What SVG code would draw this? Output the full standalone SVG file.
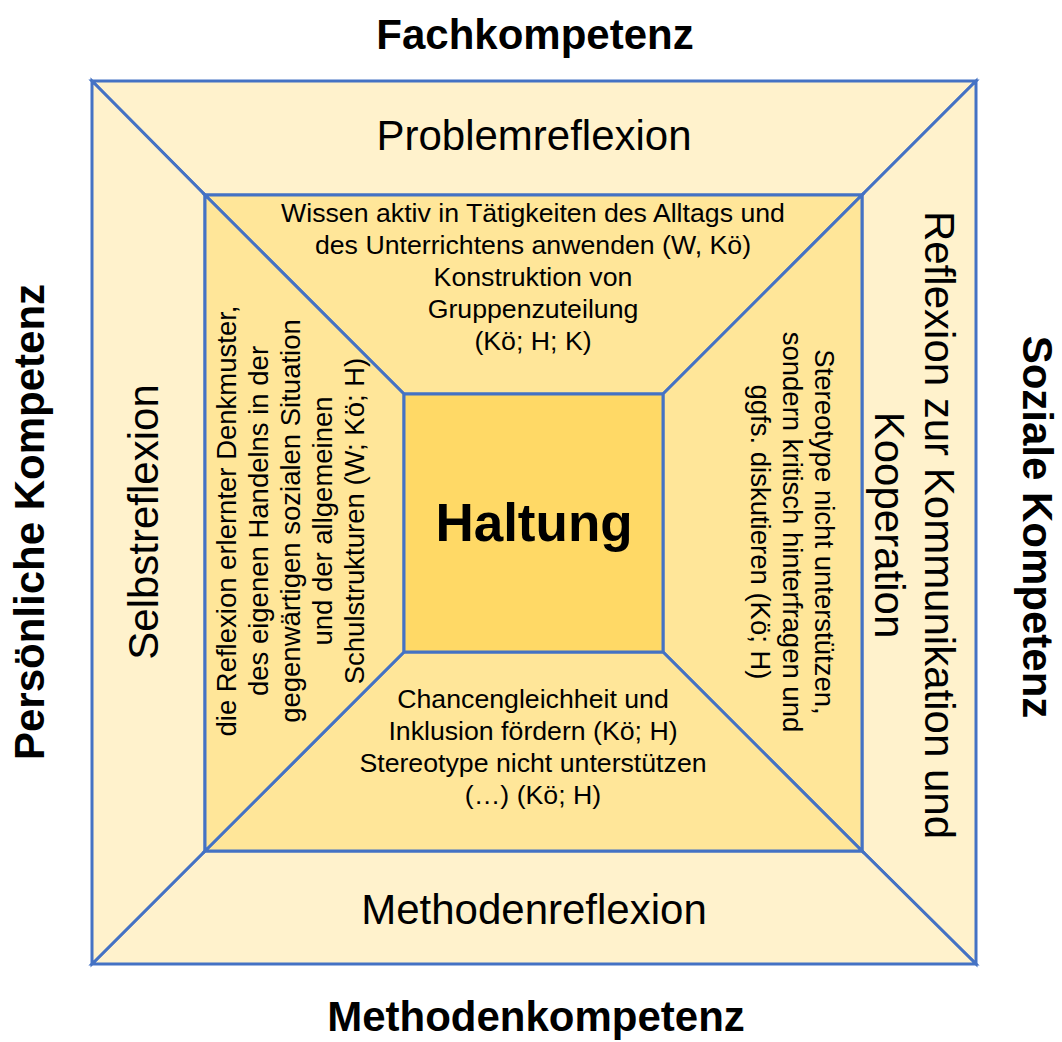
<svg xmlns="http://www.w3.org/2000/svg" width="1062" height="1042" viewBox="0 0 1062 1042">
<style>
.o{fill:#FFF2CC;stroke:#4472C4;stroke-width:3;stroke-linejoin:miter}
.m{fill:#FFE699;stroke:#4472C4;stroke-width:3;stroke-linejoin:miter}
.c{fill:#FFD966;stroke:#4472C4;stroke-width:3}
text{font-family:"Liberation Sans",Arial,sans-serif;fill:#000;text-anchor:middle}
.h{font-size:42px;font-weight:bold}
.b{font-size:42px}
.s{font-size:26.7px}
.v{font-size:27.5px}
</style>
<rect width="1062" height="1042" fill="#FFFFFF"/>
<g id="outer-top">
<polygon class="o" points="92,81 976,81 862,195 205,195"/>
<text class="b" x="534" y="150">Problemreflexion</text>
</g>
<g id="outer-right">
<polygon class="o" points="976,81 976,964 862,851 862,195"/>
<text class="b" transform="translate(925,525) rotate(90)" x="0" y="0">Reflexion zur Kommunikation und</text>
<text class="b" transform="translate(875,525) rotate(90)" x="0" y="0">Kooperation</text>
</g>
<g id="outer-bottom">
<polygon class="o" points="92,964 976,964 862,851 205,851"/>
<text class="b" x="534" y="924">Methodenreflexion</text>
</g>
<g id="outer-left">
<polygon class="o" points="92,81 205,195 205,851 92,964"/>
<text class="b" transform="translate(158,522) rotate(-90)" x="0" y="0">Selbstreflexion</text>
</g>
<g id="middle-top">
<polygon class="m" points="205,195 862,195 663,394 404,394"/>
<text class="s" x="533" y="222">Wissen aktiv in Tätigkeiten des Alltags und</text>
<text class="s" x="533" y="254">des Unterrichtens anwenden (W, Kö)</text>
<text class="s" x="533" y="286">Konstruktion von</text>
<text class="s" x="533" y="318">Gruppenzuteilung</text>
<text class="s" x="533" y="350">(Kö; H; K)</text>
</g>
<g id="middle-right">
<polygon class="m" points="862,195 862,851 663,652 663,394"/>
<g transform="rotate(90)">
<text class="v" x="532" y="-815">Stereotype nicht unterstützen,</text>
<text class="v" x="532" y="-783">sondern kritisch hinterfragen und</text>
<text class="v" x="532" y="-751">ggfs. diskutieren (Kö; H)</text>
</g>
</g>
<g id="middle-bottom">
<polygon class="m" points="205,851 862,851 663,652 404,652"/>
<text class="s" x="533" y="708">Chancengleichheit und</text>
<text class="s" x="533" y="740">Inklusion fördern (Kö; H)</text>
<text class="s" x="533" y="772">Stereotype nicht unterstützen</text>
<text class="s" x="533" y="804">(…) (Kö; H)</text>
</g>
<g id="middle-left">
<polygon class="m" points="205,195 404,394 404,652 205,851"/>
<g transform="rotate(-90)">
<text class="v" x="-521" y="236">die Reflexion erlernter Denkmuster,</text>
<text class="v" x="-521" y="268">des eigenen Handelns in der</text>
<text class="v" x="-521" y="300">gegenwärtigen sozialen Situation</text>
<text class="v" x="-521" y="332">und der allgemeinen</text>
<text class="v" x="-521" y="364">Schulstrukturen (W; Kö; H)</text>
</g>
</g>
<g id="center">
<rect class="c" x="404" y="394" width="259" height="258"/>
<text x="534" y="541" style="font-size:53px;font-weight:bold">Haltung</text>
</g>
<g id="label-top"><text class="h" x="535" y="49">Fachkompetenz</text></g>
<g id="label-bottom"><text class="h" x="536" y="1031">Methodenkompetenz</text></g>
<g id="label-left"><text class="h" transform="translate(44,522) rotate(-90)" x="0" y="0">Persönliche Kompetenz</text></g>
<g id="label-right"><text class="h" transform="translate(1023,527) rotate(90)" x="0" y="0">Soziale Kompetenz</text></g>
</svg>
